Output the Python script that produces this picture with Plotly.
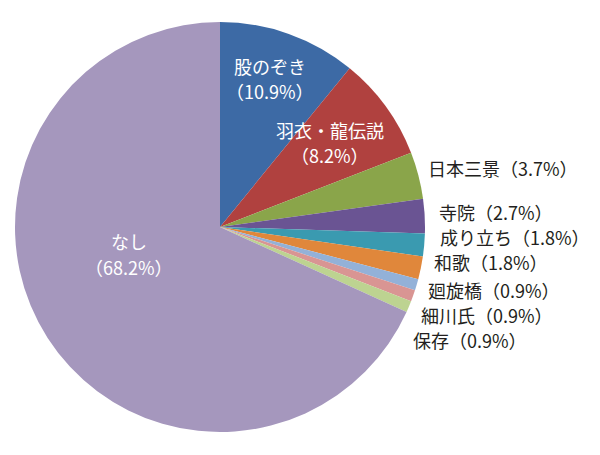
import plotly.graph_objects as go

W, H = 600, 455
categories = ["股のぞき", "羽衣・龍伝説", "日本三景", "寺院", "成り立ち", "和歌", "廻旋橋", "細川氏", "保存", "なし"]
values = [10.9, 8.2, 3.7, 2.7, 1.8, 1.8, 0.9, 0.9, 0.9, 68.2]
colors = ["#3D6AA5", "#B0413F", "#8AA54A", "#6A5493", "#3A9AB0", "#E0873B",
          "#93B1D8", "#D99593", "#BDD391", "#A597BD"]

# label placements (pixel positions in the 600x455 image)
inside_labels = {"股のぞき": (270, 66, 91), "羽衣・龍伝説": (330, 130, 155), "なし": (129, 241, 267)}
outside_labels = {"日本三景": (426, 168), "寺院": (437, 212), "成り立ち": (438, 237), "和歌": (432, 262),
                  "廻旋橋": (426, 290), "細川氏": (419, 315), "保存": (411, 340)}

OFF = 8  # page body margin compensation
cx, cy, r = 220 - OFF, 227 - OFF, 205


def px(x):
    return (x - OFF) / W


def py(y):
    return 1 - (y - OFF) / H


fig = go.Figure(go.Pie(
    labels=categories, values=values, sort=False, direction="clockwise", rotation=0,
    marker=dict(colors=colors, line=dict(width=0)), textinfo="none", hoverinfo="label+percent",
    domain=dict(x=[(cx - r) / W, (cx + r) / W], y=[(H - cy - r) / H, (H - cy + r) / H]),
    showlegend=False,
))

font_family = "Noto Sans CJK JP"
FS = 18
ann = []
for c, v in zip(categories, values):
    if c in inside_labels:
        x, y1, y2 = inside_labels[c]
        ann.append(dict(x=px(x), y=py(y1), text=c, showarrow=False, xref="paper", yref="paper",
                        xanchor="center", yanchor="middle", font=dict(size=FS, color="white", family=font_family)))
        ann.append(dict(x=px(x), y=py(y2), text=f"（{v}%）", showarrow=False, xref="paper", yref="paper",
                        xanchor="center", yanchor="middle", font=dict(size=FS, color="white", family=font_family)))
    else:
        x, y = outside_labels[c]
        ann.append(dict(x=px(x), y=py(y), text=f"{c}（{v}%）", showarrow=False, xref="paper", yref="paper",
                        xanchor="left", yanchor="middle", font=dict(size=FS, color="#231F20", family=font_family)))

fig.update_layout(width=W, height=H, margin=dict(l=0, r=0, t=0, b=0),
                  paper_bgcolor="white", plot_bgcolor="white", annotations=ann,
                  font=dict(family=font_family))
fig.write_html("out.html")
